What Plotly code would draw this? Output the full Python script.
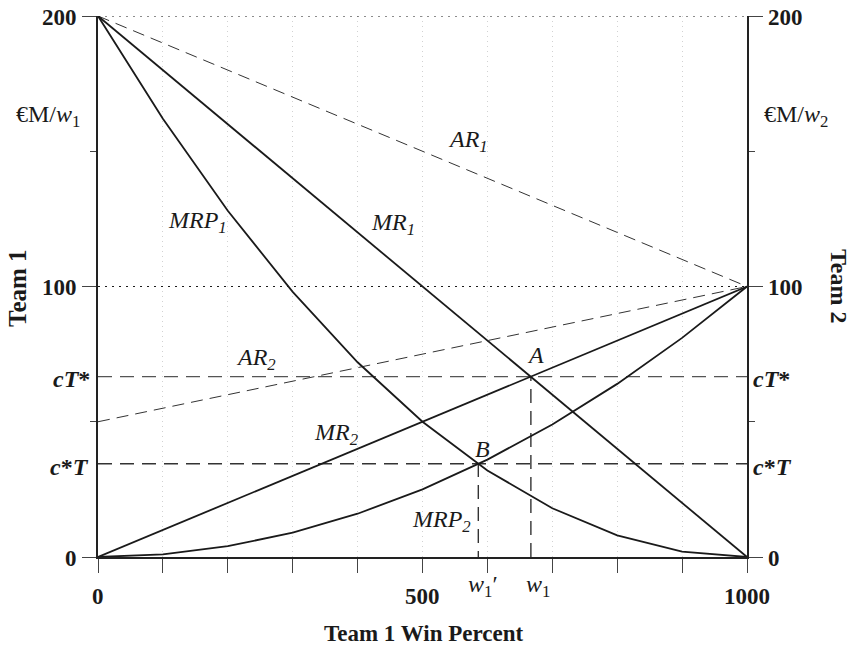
import plotly.graph_objects as go

# ---- data ----
win_pct = [0, 100, 200, 300, 400, 500, 600, 700, 800, 900, 1000]
mrp1 = [200, 162, 128, 98, 72, 50, 32, 18, 8, 2, 0]
mrp2 = [0, 1, 4, 9, 16, 25, 36, 49, 64, 81, 100]
line_x = [0, 1000]
mr1 = [200, 0]
mr2 = [0, 100]
ar1 = [200, 100]
ar2 = [50, 100]
cT_star = 66.7      # cT*
c_star_T = 34.5     # c*T
w1 = 667
w1_prime = 586
x_tickvals = [0, 100, 200, 300, 400, 500, 600, 700, 800, 900, 1000]
x_labels = {0: "0", 500: "500", 1000: "1000"}
y_major = [0, 100, 200]
y_minor = [50, 150]
y_labels = {0: "0", 100: "100", 200: "200"}

FONT = "Liberation Serif"
INK = "#1a1a1a"

fig = go.Figure()

# reference dotted lines at 100 and 200
for yv in [100, 200]:
    fig.add_trace(go.Scatter(x=line_x, y=[yv, yv], mode="lines",
                             line=dict(color=INK, width=1.2, dash="2px,5px"),
                             hoverinfo="skip", showlegend=False))

# horizontal dashed cost lines
fig.add_trace(go.Scatter(x=line_x, y=[cT_star, cT_star], mode="lines",
                         line=dict(color="#555555", width=1.3, dash="14px,8px"),
                         showlegend=False))
fig.add_trace(go.Scatter(x=line_x, y=[c_star_T, c_star_T], mode="lines",
                         line=dict(color="#333333", width=1.4, dash="14px,8px"),
                         showlegend=False))
# vertical dashed drop lines
fig.add_trace(go.Scatter(x=[w1, w1], y=[0, cT_star], mode="lines",
                         line=dict(color="#333333", width=1.4, dash="14px,8px"),
                         showlegend=False))
fig.add_trace(go.Scatter(x=[w1_prime, w1_prime], y=[-3, c_star_T], mode="lines",
                         line=dict(color="#333333", width=1.4, dash="14px,8px"),
                         showlegend=False, cliponaxis=False))

# average revenue (dashed)
fig.add_trace(go.Scatter(x=line_x, y=ar1, mode="lines",
                         line=dict(color="#333333", width=1, dash="12px,7px"),
                         showlegend=False))
fig.add_trace(go.Scatter(x=line_x, y=ar2, mode="lines",
                         line=dict(color="#333333", width=1, dash="12px,7px"),
                         showlegend=False))

# marginal revenue lines
fig.add_trace(go.Scatter(x=line_x, y=mr1, mode="lines",
                         line=dict(color=INK, width=1.8), showlegend=False))
fig.add_trace(go.Scatter(x=line_x, y=mr2, mode="lines",
                         line=dict(color=INK, width=1.8), showlegend=False))

# marginal revenue product curves
fig.add_trace(go.Scatter(x=win_pct, y=mrp1, mode="lines",
                         line=dict(color=INK, width=1.8), showlegend=False))
fig.add_trace(go.Scatter(x=win_pct, y=mrp2, mode="lines",
                         line=dict(color=INK, width=1.8), showlegend=False))

# invisible trace to activate the right axis
fig.add_trace(go.Scatter(x=[0], y=[0], yaxis="y2", mode="markers",
                         marker=dict(opacity=0), hoverinfo="skip", showlegend=False))

L, R, T, B = 98, 107, 16, 91
W, H = 854, 648
PW, PH = W - L - R, H - T - B


def px(xp):
    return (xp - L) / PW


def py(yp):
    return (H - B - yp) / PH


ann = []


def add(text, xp, yp, size=24, xanchor="center", yanchor="middle", bold=False,
        italic=False, angle=0):
    t = text
    if italic:
        t = "<i>" + t + "</i>"
    if bold:
        t = "<b>" + t + "</b>"
    ann.append(dict(text=t, x=px(xp), y=py(yp), xref="paper", yref="paper",
                    showarrow=False, xanchor=xanchor, yanchor=yanchor,
                    textangle=angle, borderpad=0,
                    font=dict(family=FONT, size=size, color=INK)))


# axis numbers
for v, s in y_labels.items():
    yp = H - B - v / 200 * PH
    add(s, 78, yp + 1, size=23, xanchor="right", bold=True)
    add(s, 767, yp + 1, size=23, xanchor="left", bold=True)
for v, s in x_labels.items():
    xp = L + v / 1000 * PW
    add(s, xp, 596, size=23, bold=True)

# cost labels
add("<i>cT</i>*", 91, 379, xanchor="right", bold=True)
add("<i>c</i>*<i>T</i>", 90, 467, xanchor="right", bold=True)
add("<i>cT</i>*", 752, 379, xanchor="left", bold=True)
add("<i>c</i>*<i>T</i>", 752, 467, xanchor="left", bold=True)

# units
add("€M/<i>w</i><sub>1</sub>", 15, 116, xanchor="left")
add("€M/<i>w</i><sub>2</sub>", 763, 116, xanchor="left")

# axis titles
add("Team 1", 18, 288, size=25, bold=True, angle=-90)
add("Team 2", 839, 286, size=24, bold=True, angle=90)
add("Team 1 Win Percent", 423, 633, size=23, bold=True)

# win labels
add("<i>w</i><sub>1</sub>′", 467, 586, xanchor="left")
add("<i>w</i><sub>1</sub>", 525, 586, xanchor="left")

# curve labels
add("AR<sub>1</sub>", 468, 141, italic=True)
add("MRP<sub>1</sub>", 197, 222, italic=True)
add("MR<sub>1</sub>", 393, 224, italic=True)
add("AR<sub>2</sub>", 256, 359, italic=True)
add("A", 535, 355, italic=True)
add("MR<sub>2</sub>", 336, 434, italic=True)
add("B", 482, 449, italic=True)
add("MRP<sub>2</sub>", 441, 521, italic=True)

axis_common = dict(showline=True, linecolor="#222222", linewidth=2,
                   zeroline=False, showticklabels=False)

fig.update_layout(
    width=W, height=H, autosize=False,
    margin=dict(l=L, r=R, t=T, b=B, pad=0),
    plot_bgcolor="white", paper_bgcolor="white",
    showlegend=False,
    xaxis=dict(range=[0, 1000], tickvals=x_tickvals, ticks="outside", ticklen=14,
               tickwidth=1.3, tickcolor="#444444",
               showgrid=True, gridcolor="#d2d2d2", griddash="1px,4px", gridwidth=1,
               **axis_common),
    yaxis=dict(range=[0, 200], tickvals=y_major, ticks="outside", ticklen=14,
               tickwidth=1.3, tickcolor="#444444", showgrid=False,
               minor=dict(tickvals=y_minor, ticks="outside", ticklen=6,
                          tickwidth=1.3, tickcolor="#444444", showgrid=False),
               **axis_common),
    yaxis2=dict(range=[0, 200], overlaying="y", side="right", anchor="x",
                tickvals=y_major, ticks="outside", ticklen=14,
                tickwidth=1.3, tickcolor="#444444", showgrid=False,
                minor=dict(tickvals=y_minor, ticks="outside", ticklen=6,
                           tickwidth=1.3, tickcolor="#444444", showgrid=False),
                **axis_common),
    annotations=ann,
)

fig.write_html("out.html")
